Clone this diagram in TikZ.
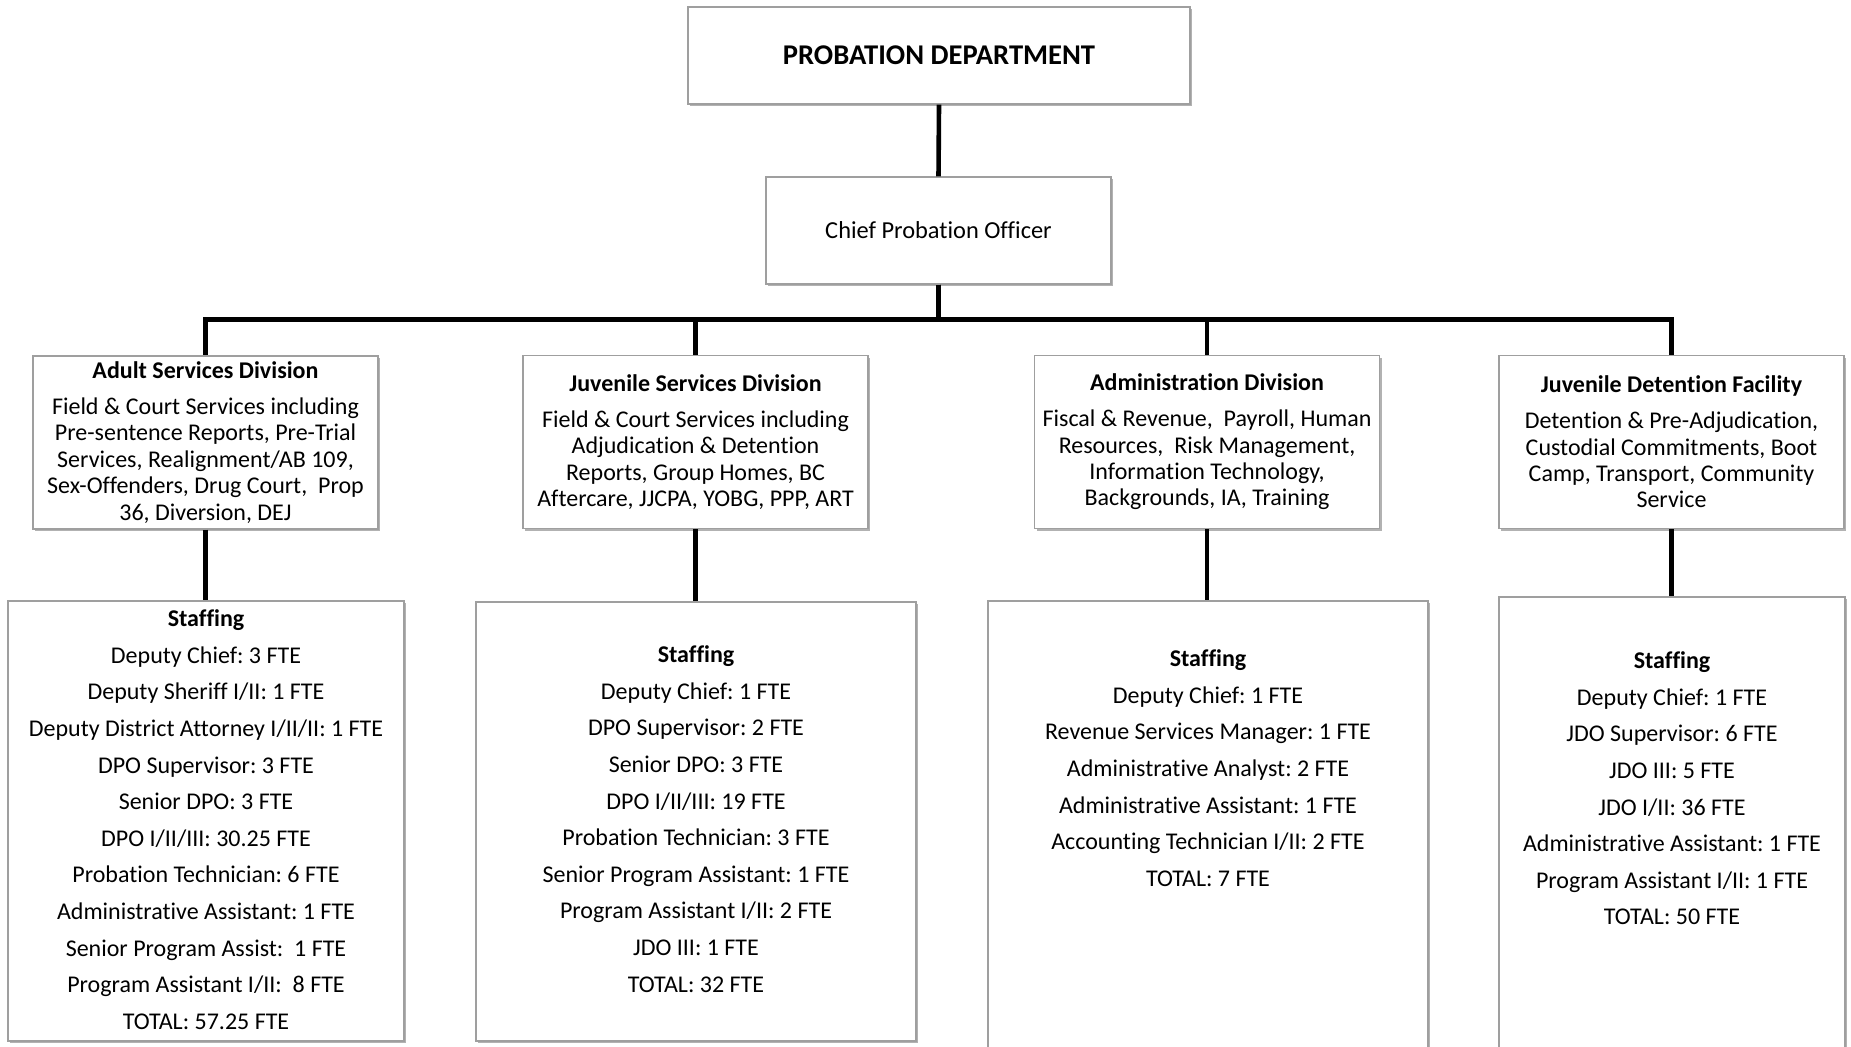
\documentclass[tikz,border=0pt]{standalone}
\usepackage{fontspec}
\setmainfont{Carlito}[Ligatures=NoCommon]
\frenchspacing
\usetikzlibrary{positioning,shadows}

\tikzset{
  box/.style={draw=gray!75, line width=0.6pt, fill=white, inner sep=0pt,
    drop shadow={shadow xshift=1.2pt, shadow yshift=-1.2pt, opacity=0.3, fill=black}},
  divbox/.style={box, minimum width=172.5pt, minimum height=86.5pt, align=center,
    font=\fontsize{12}{13.2}\selectfont},
  staffbox/.style={box},
  stafftext/.style={align=center, inner sep=0pt, font=\fontsize{12}{18.3}\selectfont},
  link/.style={line width=2.3pt, black},
}

\begin{document}
\begin{tikzpicture}[x=0.5pt, y=-0.5pt]
    \useasboundingbox (0,0) rectangle (1851,1047);

    % top of the chart
    \node[box, minimum width=251pt, minimum height=48.5pt, font=\fontsize{14.3}{16}\selectfont\bfseries] (dept) at (939,55.5) {PROBATION DEPARTMENT};
    \node[box, minimum width=172.5pt, minimum height=53.5pt, font=\fontsize{12.2}{14}\selectfont] (chief) at (938.5,230.5) {Chief Probation Officer};

    % divisions
    \node[divbox] (adultDiv) at (205.5,442.5) {\textbf{Adult Services Division}\\[4.8pt]
        Field \& Court Services including\\ Pre-sentence Reports, Pre-Trial\\ Services, Realignment/AB 109,\\ Sex-Offenders, Drug Court,\ \ Prop\\ 36, Diversion, DEJ};
    \node[divbox] (juvDiv) at (695.5,442) {\textbf{Juvenile Services Division}\\[4.8pt]
        Field \& Court Services including\\ Adjudication \& Detention\\ Reports, Group Homes, BC\\ Aftercare, JJCPA, YOBG, PPP, ART};
    \node[divbox] (admDiv) at (1207,442) {\textbf{Administration Division}\\[4.8pt]
        Fiscal \& Revenue,\ \ Payroll, Human\\ Resources,\ \ Risk Management,\\ Information Technology,\\ Backgrounds, IA, Training};
    \node[divbox] (jdfDiv) at (1671.5,442) {\textbf{Juvenile Detention Facility}\\[4.8pt]
        Detention \& Pre-Adjudication,\\ Custodial Commitments, Boot\\ Camp, Transport, Community\\ Service};

    % staffing boxes
    \node[staffbox, minimum width=198pt, minimum height=220pt] (adultStaff) at (206,821) {};
    \node[staffbox, minimum width=220pt, minimum height=219.5pt] (juvStaff) at (696,821.5) {};
    \node[staffbox, minimum width=220pt, minimum height=229.5pt] (admStaff) at (1208,830.5) {};
    \node[staffbox, minimum width=173pt, minimum height=231.5pt] (jdfStaff) at (1672,828.5) {};

    \node[stafftext, below=4.5pt of adultStaff.north] (adultList) {\textbf{Staffing}\\ Deputy Chief: 3 FTE\\ Deputy Sheriff I/II: 1 FTE\\
        Deputy District Attorney I/II/II: 1 FTE\\ DPO Supervisor: 3 FTE\\ Senior DPO: 3 FTE\\ DPO I/II/III: 30.25 FTE\\
        Probation Technician: 6 FTE\\ Administrative Assistant: 1 FTE\\ Senior Program Assist:\ \ 1 FTE\\
        Program Assistant I/II:\ \ 8 FTE\\ TOTAL: 57.25 FTE};
    \node[stafftext, below=22pt of juvStaff.north] (juvList) {\textbf{Staffing}\\ Deputy Chief: 1 FTE\\ DPO Supervisor: 2 FTE\\
        Senior DPO: 3 FTE\\ DPO I/II/III: 19 FTE\\ Probation Technician: 3 FTE\\ Senior Program Assistant: 1 FTE\\
        Program Assistant I/II: 2 FTE\\ JDO III: 1 FTE\\ TOTAL: 32 FTE};
    \node[stafftext, below=24.5pt of admStaff.north] (admList) {\textbf{Staffing}\\ Deputy Chief: 1 FTE\\ Revenue Services Manager: 1 FTE\\
        Administrative Analyst: 2 FTE\\ Administrative Assistant: 1 FTE\\ Accounting Technician I/II: 2 FTE\\ TOTAL: 7 FTE};
    \node[stafftext, below=27.5pt of jdfStaff.north] (jdfList) {\textbf{Staffing}\\ Deputy Chief: 1 FTE\\ JDO Supervisor: 6 FTE\\
        JDO III: 5 FTE\\ JDO I/II: 36 FTE\\ Administrative Assistant: 1 FTE\\ Program Assistant I/II: 1 FTE\\ TOTAL: 50 FTE};

    % connectors
    \draw[link] (dept.south) -- (chief.north);
    \draw[link] (chief.south) -- ++(0,35) -| (adultDiv.north);
    \draw[link] (chief.south) -- ++(0,35) -| (juvDiv.north);
    \draw[link] (chief.south) -- ++(0,35) -| (admDiv.north);
    \draw[link] (chief.south) -- ++(0,35) -| (jdfDiv.north);

    \draw[link] (adultDiv.south) -- (adultDiv.south |- adultStaff.north);
    \draw[link] (juvDiv.south) -- (juvDiv.south |- juvStaff.north);
    \draw[link] (admDiv.south) -- (admDiv.south |- admStaff.north);
    \draw[link] (jdfDiv.south) -- (jdfDiv.south |- jdfStaff.north);
\end{tikzpicture}
\end{document}
